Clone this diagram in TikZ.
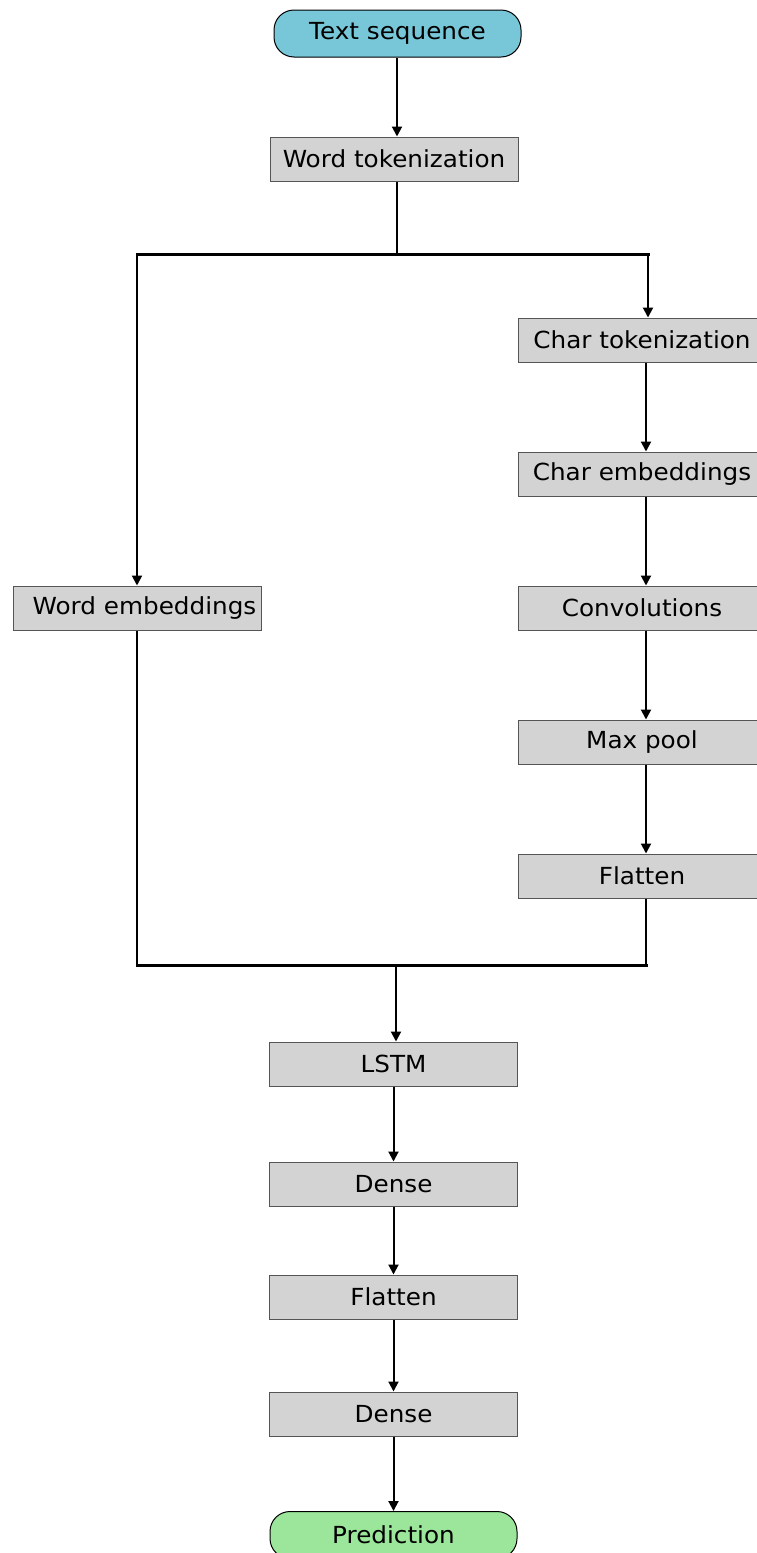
\documentclass[tikz,border=0pt]{standalone}
\usepackage{fontspec}
\setmainfont[FakeStretch=1.05]{DejaVu Sans}
\usetikzlibrary{arrows.meta}
\definecolor{boxgray}{HTML}{D3D3D3}
\definecolor{startblue}{HTML}{77C7D8}
\definecolor{endgreen}{HTML}{9BE69A}
\definecolor{edgegray}{HTML}{555555}
\tikzset{
  layer/.style={draw=edgegray, line width=1pt, fill=boxgray, minimum width=248pt, minimum height=44pt,
    inner sep=0pt, font=\fontsize{23.5}{27}\selectfont},
  terminal/.style={layer, draw=black, rounded corners=20pt, minimum width=247pt, minimum height=47pt},
  flow/.style={line width=2pt, -{Triangle[width=10pt,length=10pt]}},
  wire/.style={line width=2pt},
  joint/.style={line width=3pt, line cap=rect},
}
\begin{document}
\begin{tikzpicture}[x=1pt, y=-1pt]
\useasboundingbox (0,0) rectangle (757,1553);
\clip (0,0) rectangle (757,1553);

% main column
\node[terminal, fill=startblue] (ts) at (397.5,33.5) {Text sequence};
\node[layer] (wt) at (394,159) {Word tokenization};

% word branch
\node[layer] (we) at (137.5,608) {\hspace*{14pt}Word embeddings};

% character branch
\node[layer] (ct) at (642,340) {Char tokenization};
\node[layer] (ce) at (642,474) {Char embeddings};
\node[layer] (cv) at (642,608) {Convolutions};
\node[layer] (mp) at (642,742) {Max pool};
\node[layer] (fl) at (642,876) {Flatten};

% merged column
\node[layer] (ls) at (393.5,1064) {LSTM};
\node[layer] (d1) at (393.5,1184) {Dense};
\node[layer] (f2) at (393.5,1297) {Flatten};
\node[layer] (d2) at (393.5,1414) {Dense};
\node[terminal, fill=endgreen] (pr) at (393.5,1535) {Prediction};

% split and merge points
\coordinate (sc) at (397,254);
\coordinate (sl) at (137,254);
\coordinate (sr) at (648,254);
\coordinate (mc) at (396,965);
\coordinate (ml) at (137,965);
\coordinate (mr) at (646,965);

\draw[flow] (ts.south -| sc) -- (wt.north -| sc);
\draw[wire] (wt.south -| sc) -- (sc);
\draw[joint] (sl) -- (sr);
\draw[flow] (sl) -- (we.north -| sl);
\draw[flow] (sr) -- (ct.north -| sr);

\draw[flow] (ct.south -| mr) -- (ce.north -| mr);
\draw[flow] (ce.south -| mr) -- (cv.north -| mr);
\draw[flow] (cv.south -| mr) -- (mp.north -| mr);
\draw[flow] (mp.south -| mr) -- (fl.north -| mr);

\draw[wire] (we.south -| ml) -- (ml);
\draw[wire] (fl.south -| mr) -- (mr);
\draw[joint] (ml) -- (mr);
\draw[flow] (mc) -- (ls.north -| mc);

\draw[flow] (ls) -- (d1);
\draw[flow] (d1) -- (f2);
\draw[flow] (f2) -- (d2);
\draw[flow] (d2) -- (pr);
\end{tikzpicture}
\end{document}
